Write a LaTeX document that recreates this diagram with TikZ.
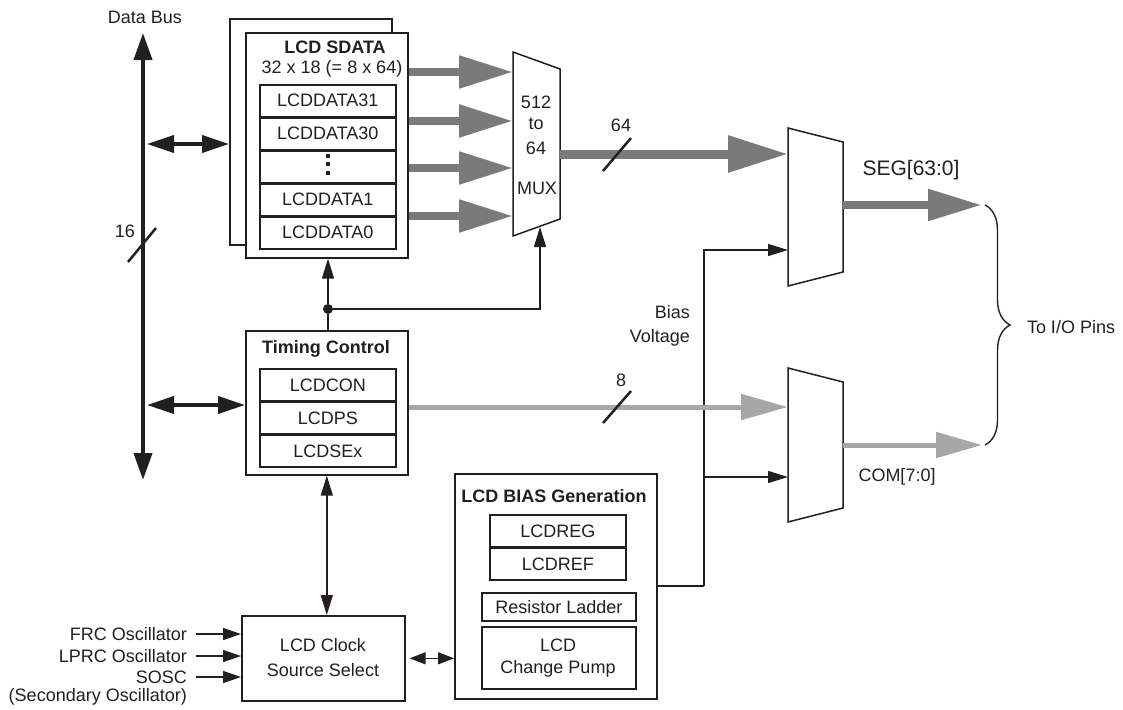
\documentclass[tikz,border=0pt]{standalone}
\usepackage{fontspec}
\setmainfont{Liberation Sans}
\usetikzlibrary{arrows.meta,decorations.pathreplacing}

\definecolor{ink}{HTML}{231F20}
\definecolor{segGray}{HTML}{7A7A7A}
\definecolor{comGray}{HTML}{A7A7A7}

\begin{document}
\begin{tikzpicture}[x=1pt, y=-1pt,
  every node/.style={font=\fontsize{18}{22}\selectfont, text=ink},
  bold/.style={font=\fontsize{18}{22}\selectfont\bfseries},
  box/.style={draw=ink, line width=1.6pt, fill=white, inner sep=0pt, anchor=north west},
  reg/.style={box, minimum width=136, minimum height=32},
  bus/.style={draw=ink, line width=4pt, {Triangle[length=27pt,width=18pt]}-{Triangle[length=27pt,width=18pt]}},
  wire/.style={draw=ink, line width=1.4pt},
  sig/.style={wire, -{Triangle[length=20pt,width=12pt]}},
  sigboth/.style={wire, {Triangle[length=20pt,width=12pt]}-{Triangle[length=20pt,width=12pt]}},
  fat/.style={draw=segGray, line width=8.5pt, -{Triangle[length=54pt,width=31pt]}},
  lean/.style={draw=comGray, line width=5pt, -{Triangle[length=47pt,width=25pt]}},
  slash/.style={draw=ink, line width=2.5pt},
  mux/.style={draw=ink, line width=1.5pt, fill=white}]
  \useasboundingbox (0,0) rectangle (1123,709);

  % Data bus
  \coordinate (bustop) at (143,33);
  \coordinate (busbot) at (143,480);
  \draw[bus] (bustop) -- (busbot);
  \node (busname) at (145,17) {Data Bus};
  \draw[slash] (128,262) -- (156,228);
  \node (buswidth) at (125,231) {16};

  % LCD SDATA
  \node[box, minimum width=162, minimum height=226] (sdataback) at (229,18) {};
  \node[box, minimum width=162, minimum height=225] (sdata) at (245,32) {};
  \node[bold] (sdatatitle) at (335,47) {LCD SDATA};
  \node (sdatasize) at (332,69) {32 x 18 (= 8 x 64)};
  \node[reg] (d31) at (259,84) {LCDDATA31};
  \node[reg] (d30) at (259,117) {LCDDATA30};
  \node[reg] (ddots) at (259,150) {};
  \foreach \y in {154,162,171} \fill[ink] (326,\y) rectangle ++(4,4);
  \node[reg] (d1) at (259,183) {LCDDATA1};
  \node[reg] (d0) at (259,216) {LCDDATA0};

  % MUX 512 to 64
  \coordinate (m1a) at (513,72);
  \coordinate (m1b) at (513,121);
  \coordinate (m1c) at (513,168);
  \coordinate (m1d) at (513,216);
  \foreach \m in {m1a,m1b,m1c,m1d} \draw[fat] (\m -| sdata.east) -- (\m);
  \draw[mux] (513,52) -- (560,69) -- (560,219) -- (513,236) -- cycle;
  \node (m512) at (536,102) {512};
  \node (mto) at (536,124) {to};
  \node (m64) at (536,148) {64};
  \node (mmux) at (537,188) {MUX};

  \coordinate (m1out) at (560,154);
  \coordinate (m2a) at (788,154);
  \draw[fat, line width=9pt, -{Triangle[length=60pt,width=35pt]}] (m1out) -- (m2a);
  \draw[slash] (603,171) -- (631,138);
  \node (segwidth) at (621,125) {64};

  % Timing control
  \node[box, minimum width=162, minimum height=144] (timing) at (245,330) {};
  \node[bold] (timingtitle) at (326,349) {Timing Control};
  \node[reg] (con) at (259,368) {LCDCON};
  \node[reg] (ps) at (259,401) {LCDPS};
  \node[reg] (sex) at (259,434) {LCDSEx};

  \coordinate (busa) at (147,144);
  \coordinate (busb) at (147,405);
  \draw[bus, {Triangle[length=27pt,width=17pt]}-{Triangle[length=27pt,width=17pt]}] (busa) -- (busa -| sdataback.west);
  \draw[bus, {Triangle[length=27pt,width=17pt]}-{Triangle[length=27pt,width=17pt]}] (busb) -- (busb -| timing.west);

  \node[circle, fill=ink, inner sep=0pt, minimum size=10] (split) at (328,309) {};
  \draw[wire] (split) -- (split |- timing.north);
  \draw[sig] (split) -- (split |- sdata.south);
  \coordinate (m1sel) at (540,227);
  \draw[sig] (split) -| (m1sel);

  % Clock source
  \node[box, minimum width=163, minimum height=85] (clock) at (241,615) {};
  \node[align=center, font=\fontsize{18}{25}\selectfont] (clocktext) at (323,658) {LCD Clock\\Source Select};
  \draw[sigboth] (timing.south) -- (timing.south |- clock.north);

  \node[anchor=east, inner sep=2pt] (frc) at (189,634) {FRC Oscillator};
  \node[anchor=east, inner sep=2pt] (lprc) at (189,656) {LPRC Oscillator};
  \node[anchor=east, inner sep=2pt] (sosc) at (189,677) {SOSC};
  \node[anchor=east, inner sep=2pt] (soscname) at (189,697) {(Secondary Oscillator)};
  \foreach \o in {frc,lprc,sosc} \draw[sig, -{Triangle[length=18pt,width=12pt]}] ([xshift=7pt]\o.east) -- (\o.east -| clock.west);

  % LCD bias generation
  \node[box, minimum width=202, minimum height=225] (bias) at (454,473) {};
  \node[bold] (biastitle) at (554,496) {LCD BIAS Generation};
  \node[reg] (lcdreg) at (489,514) {LCDREG};
  \node[reg] (lcdref) at (489,547) {LCDREF};
  \node[box, minimum width=154, minimum height=28] (ladder) at (481,592) {Resistor Ladder};
  \node[box, minimum width=154, minimum height=62] (pump) at (481,626) {};
  \node[align=center, font=\fontsize{18}{22}\selectfont] (pumptext) at (558,658) {LCD\\Change Pump};
  \draw[wire, {Triangle[length=16pt,width=12pt]}-{Triangle[length=16pt,width=12pt]}] ([xshift=4pt]clock.east) -- (clock.east -| bias.west);

  % Bias voltage
  \coordinate (biasjoin) at (704,586);
  \coordinate (m2b) at (788,250);
  \coordinate (m3b) at (788,477);
  \draw[wire] (bias.east |- biasjoin) -- (biasjoin);
  \draw[sig] (biasjoin) |- (m2b);
  \draw[sig] (biasjoin |- m3b) -- (m3b);
  \node[anchor=east, inner sep=2pt, align=right, font=\fontsize{18}{24}\selectfont] (biasname) at (692,326) {Bias\\Voltage};

  % 8 bit path
  \coordinate (m3a) at (788,407);
  \draw[lean] (m3a -| timing.east) -- (m3a);
  \draw[slash] (603,423) -- (631,391);
  \node (comwidth) at (621,380) {8};

  % Output muxes
  \draw[mux] (788,128) -- (843,142) -- (843,272) -- (788,286) -- cycle;
  \draw[mux] (788,368) -- (843,382) -- (843,508) -- (788,522) -- cycle;
  \coordinate (m2out) at (843,205);
  \coordinate (segend) at (982,205);
  \coordinate (m3out) at (843,445);
  \coordinate (comend) at (982,445);
  \draw[fat, -{Triangle[length=54pt,width=30pt]}] (m2out) -- (segend);
  \draw[lean, -{Triangle[length=46pt,width=25pt]}] (m3out) -- (comend);
  \node[font=\fontsize{21}{25}\selectfont] (segname) at (911,170) {SEG[63:0]};
  \node (comname) at (897,477) {COM[7:0]};

  % To I/O pins
  \draw[wire, decorate, decoration={brace, amplitude=25pt}] ([xshift=3pt]segend) -- ([xshift=3pt]comend);
  \node (pins) at (1071,327) {To I/O Pins};
\end{tikzpicture}
\end{document}
